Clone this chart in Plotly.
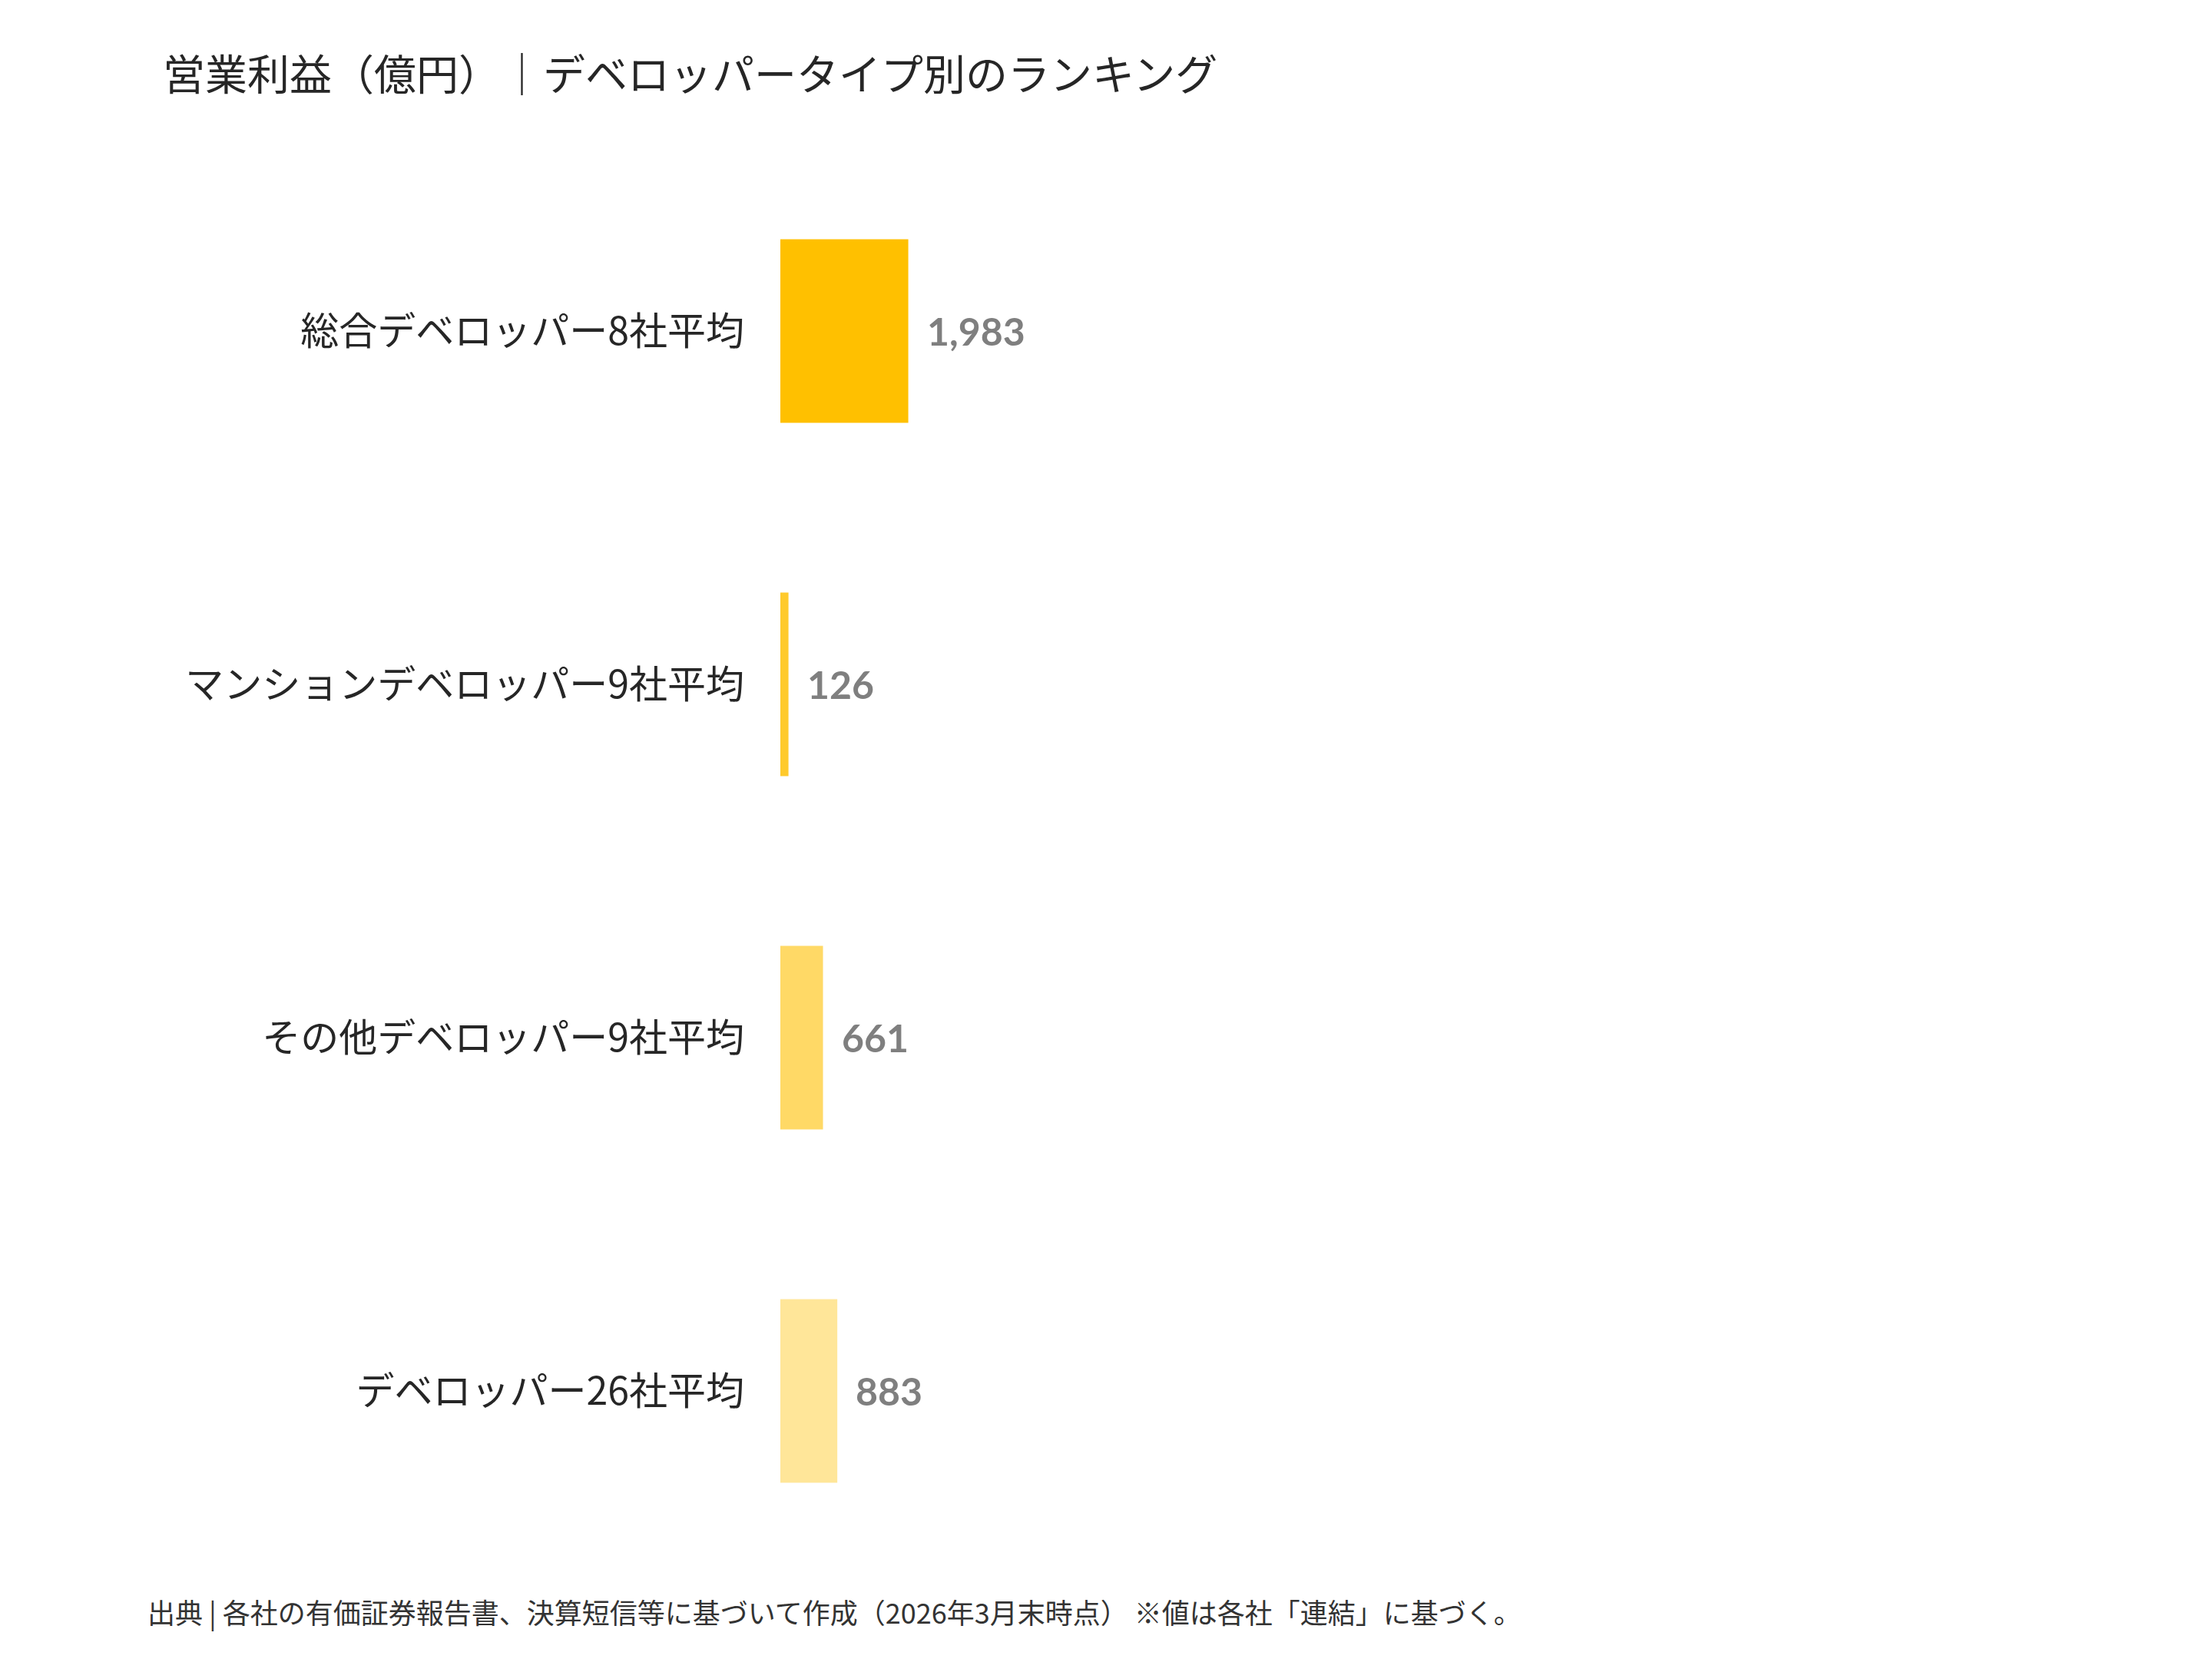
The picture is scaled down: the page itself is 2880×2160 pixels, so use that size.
import plotly.graph_objects as go

# data
categories = ["総合デベロッパー8社平均", "マンションデベロッパー9社平均", "その他デベロッパー9社平均", "デベロッパー26社平均"]
profits = [1983, 126, 661, 883]
bar_colors = ["#FFC000", "#FFCA2C", "#FFD966", "#FFE699"]

title_text = "営業利益（億円）｜デベロッパータイプ別のランキング"
source_text = "出典 | 各社の有価証券報告書、決算短信等に基づいて作成（2026年3月末時点） ※値は各社「連結」に基づく。"

cjk_font = "Noto Sans CJK JP"

fig = go.Figure(
    data=[go.Bar(
        x=profits,
        y=categories,
        orientation="h",
        marker=dict(color=bar_colors, line=dict(width=0)),
        hoverinfo="skip",
    )]
)

# value labels next to each bar
for cat, val in zip(categories, profits):
    fig.add_annotation(
        x=val, y=cat, xref="x", yref="y",
        text=f"{val:,}",
        showarrow=False, xanchor="left", yanchor="middle", xshift=22,
        font=dict(family="Lato", size=50, color="#7F7F7F", weight="bold"),
    )

fig.add_annotation(
    text=source_text,
    xref="paper", yref="paper", x=-0.468, y=-0.031,
    xanchor="left", yanchor="middle", showarrow=False,
    font=dict(family=cjk_font, size=36, color="#333333"),
)

fig.update_layout(
    width=2880,
    height=2160,
    margin=dict(l=1008, r=108, t=193, b=127),
    paper_bgcolor="white",
    plot_bgcolor="white",
    bargap=0.48,
    showlegend=False,
    title=dict(
        text=title_text,
        xref="container", yref="container",
        x=204 / 2880, y=1 - 90 / 2160,
        xanchor="left", yanchor="middle",
        font=dict(family=cjk_font, size=55, color="#262626"),
    ),
    xaxis=dict(range=[0, 21000], visible=False, showgrid=False, zeroline=False),
    yaxis=dict(
        range=[3.5, -0.5],
        showgrid=False, zeroline=False, showline=False,
        ticks="", ticklabelstandoff=46,
        tickfont=dict(family=cjk_font, size=50, color="#262626"),
    ),
)

fig.write_html("out.html")
